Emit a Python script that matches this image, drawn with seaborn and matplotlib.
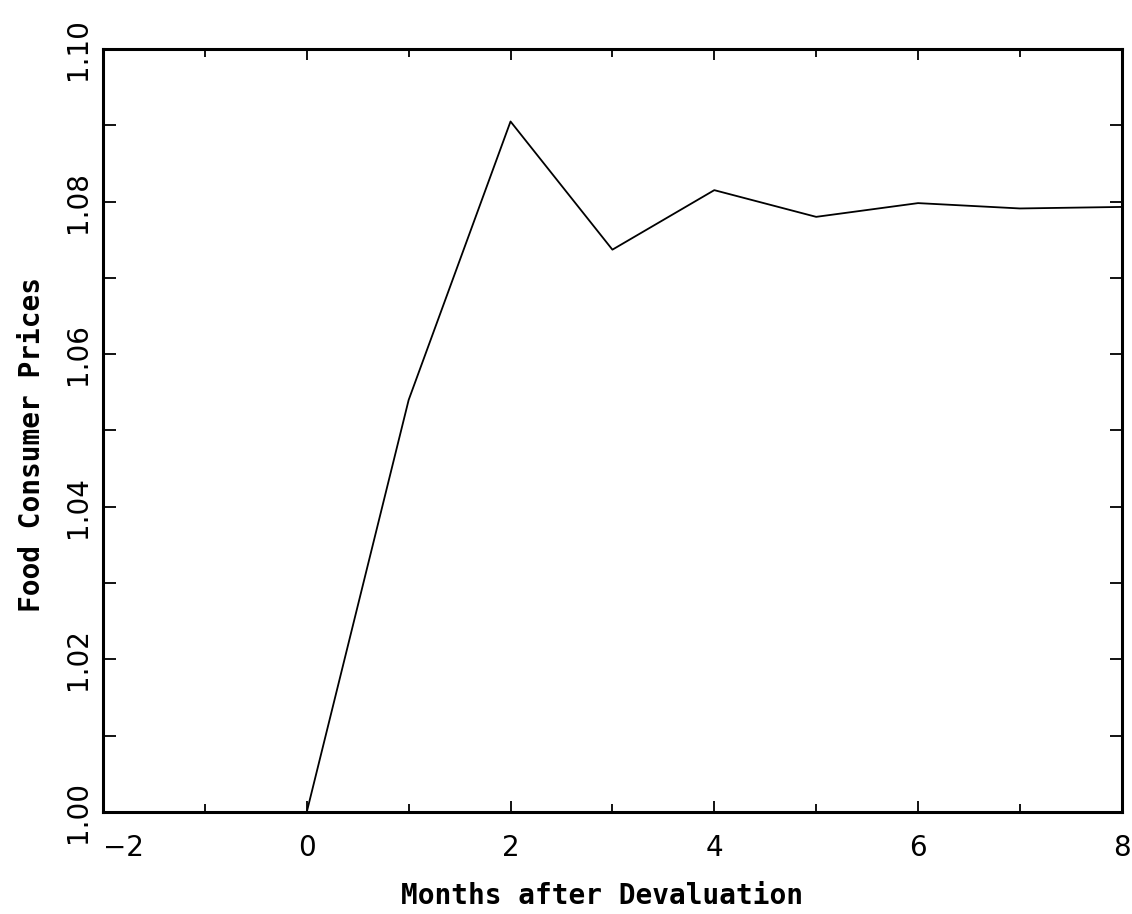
import matplotlib
matplotlib.use("Agg")
import matplotlib.pyplot as plt
from matplotlib.ticker import MultipleLocator
import seaborn as sns
import pandas as pd

months = [-2, -1, 0, 1, 2, 3, 4, 5, 6, 7, 8]
prices = [1.000, 1.000, 1.000, 1.054, 1.0905, 1.0737, 1.0815, 1.078, 1.0798, 1.0791, 1.0793]
x_ticks = [-2, 0, 2, 4, 6, 8]
y_ticks = [1.00, 1.02, 1.04, 1.06, 1.08, 1.10]
y_tick_labels = ["1.00", "1.02", "1.04", "1.06", "1.08", "1.10"]

sns.set_theme(style="ticks")
plt.rcParams['font.family'] = ['DejaVu Sans']

df = pd.DataFrame({"month": months, "price": prices})

fig = plt.figure(figsize=(11.32, 9.14), dpi=100)
ax = fig.add_axes([0.091, 0.1116, 0.900, 0.8348])
sns.lineplot(data=df, x="month", y="price", ax=ax, color="black", linewidth=1.3)

ax.set_xlim(-2, 8)
ax.set_ylim(1.00, 1.10)
ax.set_xticks(x_ticks)
ax.set_xticklabels([str(t).replace("-", "\u2212") for t in x_ticks])
ax.set_yticks(y_ticks)
ax.set_yticklabels(y_tick_labels, rotation=90, va="center")
ax.xaxis.set_minor_locator(MultipleLocator(1))
ax.yaxis.set_minor_locator(MultipleLocator(0.01))

for lab in ax.get_xticklabels() + ax.get_yticklabels():
    lab.set_color("black")
ax.get_xticklabels()[0].set_horizontalalignment("left")

ax.tick_params(axis="both", which="both", direction="in", top=True, right=True,
               color="black", width=1.3, labelcolor="black")
ax.tick_params(axis="x", which="major", length=8, labelsize=20, pad=16)
ax.tick_params(axis="x", which="minor", length=6)
ax.tick_params(axis="y", which="major", length=9, labelsize=20, pad=8)
ax.tick_params(axis="y", which="minor", length=9)

for s in ax.spines.values():
    s.set_linewidth(2.2)
    s.set_color("black")

ax.set_xlabel("Months after Devaluation", fontsize=20, fontweight="bold",
              family="DejaVu Sans Mono", color="black")
ax.set_ylabel("Food Consumer Prices", fontsize=20, fontweight="bold",
              family="DejaVu Sans Mono", color="black")
ax.xaxis.set_label_coords(0.490, -0.092)
ax.yaxis.set_label_coords(-0.0564, 0.481)

fig.savefig("out.png", dpi=100, facecolor="white")
